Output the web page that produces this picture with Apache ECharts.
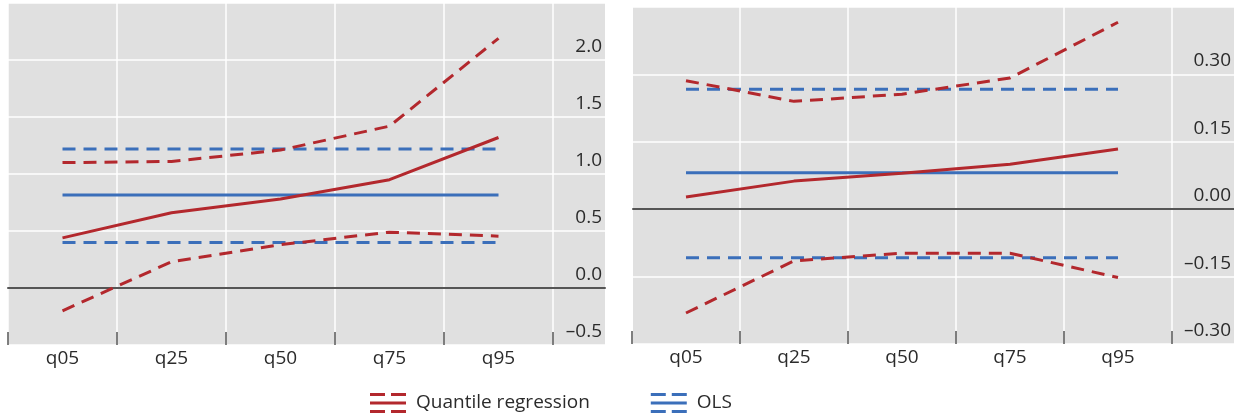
<!DOCTYPE html>
<html>
<head>
<meta charset="utf-8">
<script src="https://cdn.jsdelivr.net/npm/echarts@6/dist/echarts.min.js"></script>
<style>
html,body{margin:0;padding:0;background:#fff;}
#c{width:1234px;height:418px;}
</style>
</head>
<body>
<div id="c"></div>
<script>
const categories = ['q05', 'q25', 'q50', 'q75', 'q95'];

// Left panel
const leftQR      = [0.44, 0.66, 0.78, 0.95, 1.32];
const leftQRUpper = [1.10, 1.11, 1.21, 1.42, 2.19];
const leftQRLower = [-0.20, 0.23, 0.38, 0.49, 0.455];
const leftOLS      = [0.815, 0.815, 0.815, 0.815, 0.815];
const leftOLSUpper = [1.22, 1.22, 1.22, 1.22, 1.22];
const leftOLSLower = [0.40, 0.40, 0.40, 0.40, 0.40];
const leftTicks = { min: -0.5, max: 2.5, interval: 0.5, decimals: 1 };

// Right panel
const rightQR      = [0.027, 0.0625, 0.08, 0.10, 0.134];
const rightQRUpper = [0.286, 0.24, 0.256, 0.292, 0.416];
const rightQRLower = [-0.231, -0.115, -0.098, -0.098, -0.152];
const rightOLS      = [0.081, 0.081, 0.081, 0.081, 0.081];
const rightOLSUpper = [0.267, 0.267, 0.267, 0.267, 0.267];
const rightOLSLower = [-0.108, -0.108, -0.108, -0.108, -0.108];
const rightTicks = { min: -0.30, max: 0.45, interval: 0.15, decimals: 2 };

const legendNames = ['Quantile regression', 'OLS'];

const RED = '#b3282d';
const BLUE = '#3b6fba';
const FONT = 'Open Sans';
const TXT = '#2b2b2b';
const DASH = [13, 8];

const chart = echarts.init(document.getElementById('c'), null, { renderer: 'canvas' });

function fmt(dec) {
  return function (v) { return Number(v).toFixed(dec).replace('-', '\u2013'); };
}

const panels = [
  { bg: { left: 8, top: 3, width: 597, height: 342 }, data: { left: 8, top: 3, width: 545, height: 342 }, ticks: leftTicks,
    qr: leftQR, qrU: leftQRUpper, qrL: leftQRLower, ols: leftOLS, olsU: leftOLSUpper, olsL: leftOLSLower },
  { bg: { left: 633, top: 7, width: 601, height: 337 }, data: { left: 632, top: 7, width: 540, height: 337 }, ticks: rightTicks,
    qr: rightQR, qrU: rightQRUpper, qrL: rightQRLower, ols: rightOLS, olsU: rightOLSUpper, olsL: rightOLSLower }
];

const grid = [], xAxis = [], yAxis = [], series = [];
panels.forEach(function (p, i) {
  const gBg = grid.length;
  grid.push(Object.assign({ show: true, backgroundColor: '#e0e0e0', borderWidth: 0 }, p.bg));
  const gD = grid.length;
  grid.push(Object.assign({ show: false }, p.data));

  // background grid axes: horizontal gridlines, labels, zero line
  xAxis.push({
    gridIndex: gBg, type: 'value', min: 0, max: 1, z: 1,
    axisLine: { show: true, onZero: true, lineStyle: { color: '#555', width: 2 } },
    axisTick: { show: false }, axisLabel: { show: false }, splitLine: { show: false }
  });
  yAxis.push({
    gridIndex: gBg, type: 'value', position: 'right',
    min: p.ticks.min, max: p.ticks.max, interval: p.ticks.interval,
    axisLine: { show: false }, axisTick: { show: false },
    splitLine: { show: true, lineStyle: { color: '#ffffff', width: 1.5 } },
    axisLabel: {
      inside: true, margin: 3, showMaxLabel: false, showMinLabel: true,
      formatter: fmt(p.ticks.decimals), color: TXT, fontFamily: FONT, fontSize: 19,
      verticalAlign: 'bottom', padding: [0, 0, 4, 0]
    }
  });

  // data grid axes
  const xi = xAxis.length;
  xAxis.push({
    gridIndex: gD, type: 'category', data: categories, boundaryGap: true,
    axisLine: { show: false, onZero: false },
    axisTick: { show: true, inside: true, length: 13, lineStyle: { color: '#555', width: 1.5 } },
    splitLine: { show: true, lineStyle: { color: '#ffffff', width: 1.5 } },
    axisLabel: { interval: 0, margin: 4, color: TXT, fontFamily: FONT, fontSize: 19 }
  });
  const yi = yAxis.length;
  yAxis.push({
    gridIndex: gD, type: 'value', show: false,
    min: p.ticks.min, max: p.ticks.max, interval: p.ticks.interval,
    splitLine: { show: false }
  });

  function line(name, data, color, dashed) {
    series.push({
      name: name, type: 'line', xAxisIndex: xi, yAxisIndex: yi, data: data,
      symbol: 'none', silent: true, color: color,
      lineStyle: { color: color, width: 3, type: dashed ? DASH : 'solid' }
    });
  }
  line(legendNames[1], p.ols, BLUE, false);
  line(legendNames[1], p.olsU, BLUE, true);
  line(legendNames[1], p.olsL, BLUE, true);
  line(legendNames[0], p.qr, RED, false);
  line(legendNames[0], p.qrU, RED, true);
  line(legendNames[0], p.qrL, RED, true);
});

const ICON = 'path://M0,0h15v3h-15z M21,0h15v3h-15z M0,8.5h36v3h-36z M0,17h15v3h-15z M21,17h15v3h-15z';

chart.setOption({
  animation: false,
  backgroundColor: '#ffffff',
  grid: grid, xAxis: xAxis, yAxis: yAxis, series: series,
  legend: {
    left: 365, top: 388,
    data: [
      { name: legendNames[0], icon: ICON, itemStyle: { color: RED } },
      { name: legendNames[1], icon: ICON, itemStyle: { color: BLUE } }
    ],
    itemWidth: 36, itemHeight: 20, itemGap: 61,
    selectedMode: false,
    textStyle: { color: TXT, fontFamily: FONT, fontSize: 19, padding: [0, 0, 0, 5] }
  }
});
</script>
</body>
</html>
